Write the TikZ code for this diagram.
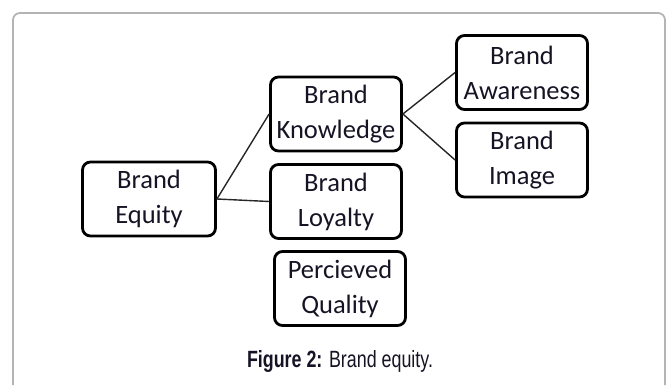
\documentclass[tikz,border=0pt]{standalone}
\usepackage{fontspec}
\usepackage{xcolor}
\usepackage{tikz}
\setmainfont{Carlito}
\newfontfamily\capfont{Liberation Sans}
\definecolor{inkdark}{RGB}{22,20,36}
\definecolor{framegray}{RGB}{180,180,180}

\begin{document}
\begin{tikzpicture}[x=1pt,y=-1pt,
    brandbox/.style={draw=black,line width=2.8pt,rounded corners=8pt,
        minimum width=131pt,minimum height=74pt,align=center,inner sep=2pt,
        text=inkdark,font=\fontsize{26.5}{35}\selectfont},
    link/.style={line width=1.4pt,black!85}]
    \useasboundingbox (0,0) rectangle (671,385);
    % Outer frame
    \draw[framegray,line width=1.8pt,rounded corners=7pt] (13,385) -- (13,13) -- (665,13) -- (665,385);

    % Boxes
    \node[brandbox,minimum width=133pt] (equity) at (149,199) {Brand\\Equity};
    \node[brandbox] (knowledge) at (336,114) {Brand\\Knowledge};
    \node[brandbox] (loyalty) at (336,201.5) {Brand\\Loyalty};
    \node[brandbox] (awareness) at (522,72.5) {Brand\\Awareness};
    \node[brandbox] (image) at (522,160) {Brand\\Image};
    \node[brandbox] (quality) at (340,288.5) {Percieved\\Quality};

    % Draw links
    \draw[link] (equity.east) -- (knowledge.west);
    \draw[link] (equity.east) -- (loyalty.west);
    \draw[link] (knowledge.east) -- (awareness.west);
    \draw[link] (knowledge.east) -- (image.west);

    % Caption
    \node[anchor=base,text=inkdark] (caption) at (340,367)
        {\scalebox{0.76}[1]{\capfont\fontsize{23.5}{28}\selectfont\textbf{Figure 2:} Brand equity.}};
\end{tikzpicture}
\end{document}
